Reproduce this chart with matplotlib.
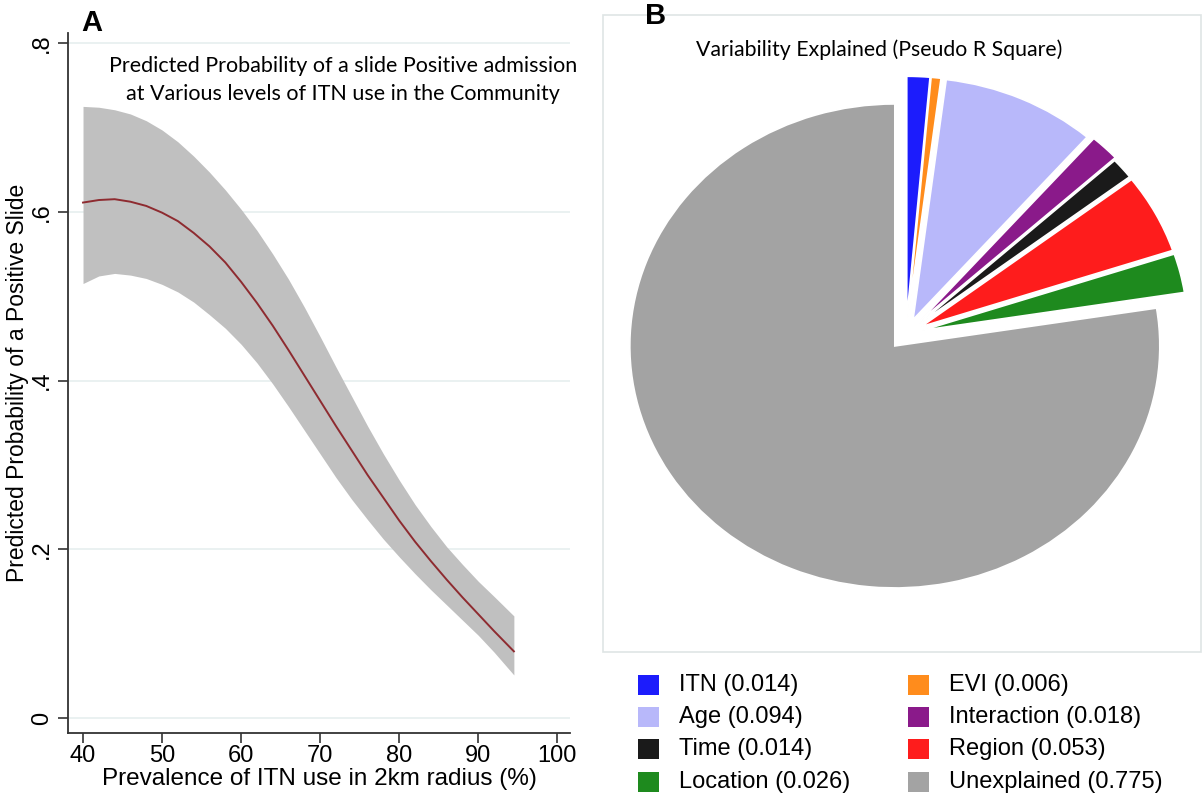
import matplotlib
matplotlib.use("Agg")
import matplotlib.pyplot as plt
from matplotlib.patches import Rectangle

# ---------------- data ----------------
itn_use = [40, 42, 44, 46, 48, 50, 52, 54, 56, 58, 60, 62, 64, 66, 68, 70,
           72, 74, 76, 78, 80, 82, 84, 86, 88, 90, 92, 94.5]
prob_mean = [0.611, 0.614, 0.615, 0.612, 0.607, 0.599, 0.589, 0.575, 0.559, 0.540,
             0.517, 0.492, 0.465, 0.436, 0.406, 0.376, 0.346, 0.317, 0.288, 0.261,
             0.234, 0.209, 0.186, 0.164, 0.143, 0.123, 0.103, 0.079]
prob_upper = [0.725, 0.724, 0.721, 0.716, 0.708, 0.697, 0.683, 0.666, 0.647, 0.626,
              0.603, 0.578, 0.550, 0.520, 0.487, 0.452, 0.416, 0.381, 0.346, 0.313,
              0.282, 0.253, 0.227, 0.203, 0.182, 0.162, 0.144, 0.121]
prob_lower = [0.515, 0.524, 0.527, 0.525, 0.521, 0.514, 0.505, 0.493, 0.478, 0.462,
              0.443, 0.421, 0.396, 0.369, 0.341, 0.313, 0.285, 0.259, 0.235, 0.212,
              0.191, 0.171, 0.152, 0.134, 0.116, 0.098, 0.078, 0.051]
x_ticks = [40, 50, 60, 70, 80, 90, 100]
y_ticks = [0, 0.2, 0.4, 0.6, 0.8]
y_ticklabels = ["0", ".2", ".4", ".6", ".8"]

components = ["ITN", "EVI", "Age", "Interaction", "Time", "Region", "Location", "Unexplained"]
pseudo_r2 = [0.014, 0.006, 0.094, 0.018, 0.014, 0.053, 0.026, 0.775]
comp_colors = ["#1c1cfc", "#ff8c1c", "#b8b8fa", "#8a1a8a", "#1a1a1a", "#fe1c1c",
               "#1e8a1e", "#a3a3a3"]
legend_order = ["ITN", "EVI", "Age", "Interaction", "Time", "Region", "Location", "Unexplained"]

# ---------------- figure ----------------
W, H = 1202, 800
fig = plt.figure(figsize=(W / 100, H / 100), dpi=100)
arial = "Liberation Sans"
calib = "Lato"

def fx(px):
    return px / W

def fy(py):
    return 1 - py / H

# ---------- Panel A ----------
axA = fig.add_axes([fx(68), fy(733), fx(570) - fx(68), fy(33) - fy(733)])
axA.fill_between(itn_use, prob_lower, prob_upper, color="#c0c0c0", lw=0, zorder=2)
axA.plot(itn_use, prob_mean, color="#8e2b30", lw=1.4, zorder=3, solid_joinstyle="round")
for yv in y_ticks:
    axA.axhline(yv, color="#e6efef", lw=1.2, zorder=1)
axA.set_xlim(38.1, 101.6)
axA.set_ylim(-0.0178, 0.812)
axA.set_xticks(x_ticks)
axA.set_xticklabels([str(v) for v in x_ticks], fontsize=17, family=arial)
axA.set_yticks(y_ticks)
axA.set_yticklabels(y_ticklabels, fontsize=17, family=arial, rotation=90, va="center")
axA.tick_params(axis="both", length=7, width=1.2, color="#333333", pad=4)
axA.tick_params(axis="x", pad=2)
for s in ["top", "right"]:
    axA.spines[s].set_visible(False)
for s in ["left", "bottom"]:
    axA.spines[s].set_linewidth(1.3)
    axA.spines[s].set_color("#333333")
axA.set_xlabel("Prevalence of ITN use in 2km radius (%)", fontsize=17.5, family=arial,
               labelpad=0.5)
axA.set_ylabel("Predicted Probability of a Positive Slide", fontsize=16.5, family=arial,
               labelpad=1)
fig.text(fx(343), fy(66), "Predicted Probability of a slide Positive admission",
         ha="center", va="center", fontsize=15.5, family=calib)
fig.text(fx(343), fy(94), "at Various levels of ITN use in the Community",
         ha="center", va="center", fontsize=15.5, family=calib)
fig.text(fx(81), fy(23), "A", ha="left", va="center", fontsize=21, weight="bold", family=arial)

# ---------- Panel B ----------
fig.patches.append(Rectangle((fx(603), fy(652)), fx(1201) - fx(603), fy(15) - fy(652),
                             transform=fig.transFigure, fill=False, ec="#dfe5e5", lw=1.2))
fig.text(fx(645), fy(16), "B", ha="left", va="center", fontsize=21, weight="bold", family=arial)
fig.text(fx(879), fy(50), "Variability Explained (Pseudo R Square)", ha="center", va="center",
         fontsize=15.3, family=calib)

cx, cy, rx, ry = 906, 334, 265, 242
k = 1.1
axB = fig.add_axes([fx(cx - k * rx), fy(cy + k * ry), 2 * k * rx / W, 2 * k * ry / H])
explode = [0.065, 0.065, 0.065, 0.075, 0.065, 0.065, 0.065, 0.065]
wedges, _ = axB.pie(pseudo_r2, colors=comp_colors, startangle=90, counterclock=False,
                    explode=explode,
                    wedgeprops=dict(edgecolor="white", linewidth=1.2))
axB.set_aspect("auto")
axB.set_xlim(-k, k)
axB.set_ylim(-k, k)
axB.axis("off")
for w in wedges:
    w.set_clip_on(False)

# legend (drawn manually, row-wise)
col_x = [638, 908]
row_y = [685, 717, 749, 782]
for i, name in enumerate(legend_order):
    j = components.index(name)
    r, c = divmod(i, 2)
    sx, sy = col_x[c], row_y[r]
    fig.patches.append(Rectangle((fx(sx), fy(sy + 10)), 21 / W, 20 / H,
                                 transform=fig.transFigure, color=comp_colors[j], lw=0))
    fig.text(fx(sx + 41), fy(sy), f"{name} ({pseudo_r2[j]:.3f})", ha="left", va="center",
             fontsize=17, family=arial)

fig.savefig("out.png", dpi=100)
